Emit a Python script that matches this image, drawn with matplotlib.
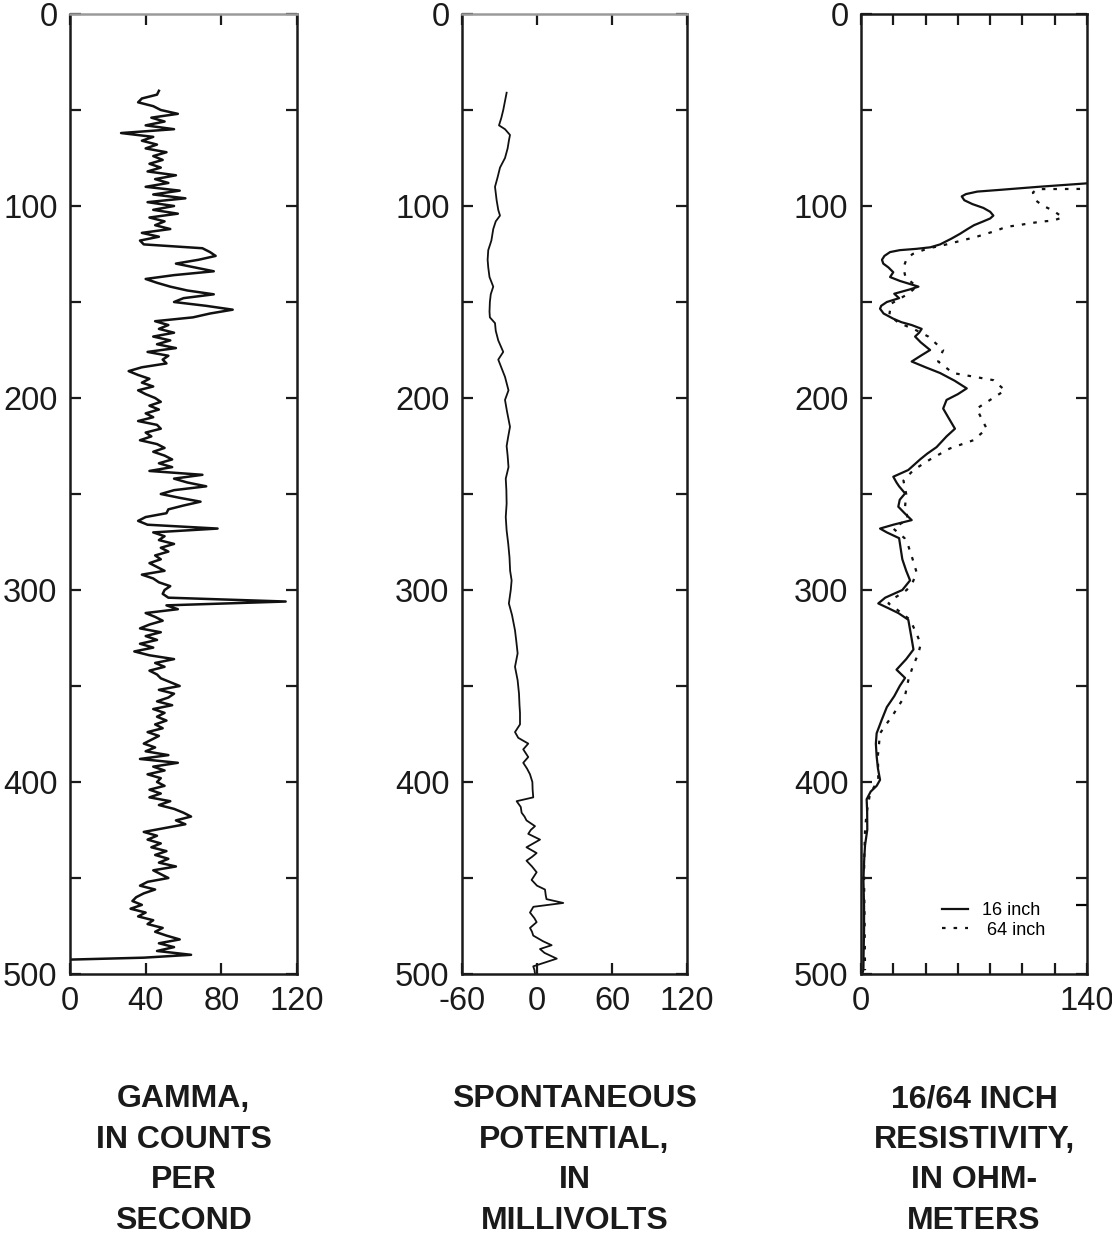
import numpy as np
import matplotlib
matplotlib.use('Agg')
import matplotlib.pyplot as plt
from matplotlib.ticker import FixedLocator

plt.rcParams['font.family'] = ['Liberation Sans', 'DejaVu Sans']

# gamma log, counts per second, read every 2 ft (plus the tail where the tool drops to 0)
gamma_depth = list(range(40, 492, 2)) + [491.5, 492.5]
gamma_cps = [
    47, 46, 38, 36, 44, 48, 57, 43, 50, 40,
    55, 27, 44, 38, 46, 40, 51, 44, 49, 42,
    48, 41, 56, 45, 52, 40, 58, 44, 61, 41,
    55, 44, 57, 42, 50, 45, 53, 38, 47, 37,
    39, 70, 74, 77, 68, 56, 66, 76, 55, 40,
    46, 53, 62, 76, 60, 55, 72, 86, 74, 65,
    45, 52, 47, 55, 44, 53, 46, 56, 41, 52,
    49, 51, 38, 31, 36, 42, 38, 44, 36, 40,
    45, 48, 42, 47, 40, 44, 36, 46, 48, 40,
    43, 37, 46, 50, 44, 50, 54, 47, 54, 42,
    70, 55, 62, 72, 55, 48, 58, 69, 60, 52,
    51, 40, 36, 41, 78, 44, 50, 47, 55, 48,
    52, 45, 48, 42, 46, 50, 38, 44, 47, 53,
    50, 49, 52, 114, 51, 57, 40, 45, 49, 42,
    37, 48, 40, 46, 37, 44, 34, 42, 55, 45,
    50, 42, 46, 48, 53, 58, 47, 55, 52, 46,
    54, 44, 50, 46, 51, 45, 49, 41, 47, 43,
    39, 45, 40, 52, 37, 57, 44, 50, 41, 48,
    46, 50, 42, 48, 42, 53, 47, 55, 60, 64,
    56, 61, 50, 39, 46, 41, 48, 43, 51, 45,
    52, 47, 56, 44, 48, 52, 41, 37, 45, 39,
    35, 33, 38, 32, 40, 36, 44, 41, 49, 45,
    51, 58, 47, 55, 46, 64,
    39, 0,
]

# spontaneous potential, millivolts
sp_depth = [
    41, 45, 50, 54, 58, 60, 63, 66, 70, 75,
    80, 85, 90, 97, 102, 105, 108, 112, 118, 123,
    128, 132, 137, 142, 146, 150, 155, 158, 161, 165,
    170, 176, 180, 185, 189, 193, 196, 201, 207, 215,
    220, 225, 230, 236, 242, 248, 255, 262, 269, 276,
    283, 290, 295, 300, 307, 313, 321, 327, 333, 340,
    347, 354, 360, 364, 370, 374, 377, 380, 383, 387,
    390, 393, 396, 400, 404, 408, 410, 413, 416, 418,
    420, 423, 425, 427, 430, 432, 434, 437, 439, 441,
    444, 447, 451, 454, 456, 459, 461, 463, 465, 468,
    471, 473, 476, 478, 480, 483, 485, 487, 489, 492,
    494, 496, 498, 500,
]
sp_mv = [
    -24.3, -25.5, -27, -28.5, -30.4, -25.6, -21.6, -22.5, -23.5, -25.6,
    -29.6, -31.5, -33.6, -32.3, -31, -29.6, -33, -35, -36.5, -39,
    -39.5, -39, -38, -35, -37, -37.7, -38, -37.7, -33.6, -33,
    -31, -27, -31, -28, -25.6, -24, -22.8, -25.6, -24, -21.6,
    -23, -24.3, -23.5, -22.8, -25, -24.5, -24.3, -25, -24.3, -23,
    -22, -21.5, -20.3, -21, -22.5, -20, -17.6, -16.5, -15.5, -17.6,
    -15.5, -14.4, -14, -13.6, -13.6, -17.6, -15, -7, -11, -7,
    -11, -8, -5.6, -3.7, -3.5, -3, -16.3, -13, -12.3, -10,
    -8.4, -1.6, -5, -7, 2.4, -3, -8.4, -0.3, -4, -8.4,
    -4, -0.3, -4.3, 0, 6.4, 7, 7.6, 21, -2.9, -5.6,
    -2, -0.3, -5.6, -4, -3, 5, 11.7, 2.4, 6, 15.8,
    6.4, -3, -2, -1.6,
]

# 16-inch normal resistivity, ohm-meters
r16_depth = [
    87.3, 88.2, 90, 91.6, 92.5, 93.8, 95, 97, 99, 101,
    103, 105, 106.5, 108, 110, 112, 114.5, 117, 120, 121.5,
    122.3, 123, 124, 126, 128, 130, 132, 134.5, 137, 139,
    142, 143.5, 145.7, 148, 150, 152, 153.5, 156, 158.7, 160.5,
    162, 164, 166, 168, 171, 175, 178, 181, 184, 187,
    191, 195, 198, 201, 205.5, 210, 216, 220, 225.6, 229,
    232, 237.5, 241, 244, 246, 249.7, 253, 256.6, 260, 263.6,
    266, 268, 270, 273, 278, 284, 290, 295, 300, 304,
    307, 309.5, 312, 315.5, 320.7, 326, 331, 336, 341.5, 345.8,
    350, 355.3, 361, 367.7, 374.6, 380, 386.7, 393, 398.9, 402,
    405, 409, 415, 424.8, 433, 440, 450.8, 465, 477, 490,
    497.7, 501,
]
r16 = [
    155, 140, 110, 86, 72, 65, 62.4, 64, 69, 75.8,
    80, 82, 80, 75.8, 70, 66, 61.3, 56, 49, 43,
    34.5, 24, 18, 14.5, 13, 13.8, 17, 20, 18, 24,
    35.6, 30, 20.6, 23.6, 16, 12.5, 11.8, 14, 20, 25,
    31.4, 37.6, 36, 33.5, 37, 42.8, 37, 31.4, 40, 49,
    58, 65.5, 60, 53, 50.9, 54, 58.2, 53, 46.8, 41,
    36.6, 29.3, 20, 22, 23.6, 27.3, 24, 23.1, 27, 31.4,
    20, 11.8, 16, 23.6, 24.5, 25.6, 28, 30.4, 25.6, 15,
    10.7, 17, 23.1, 29.3, 30.4, 31.5, 32.5, 28, 22, 27.3,
    24, 20.6, 16, 12.8, 9.7, 9.2, 9.7, 10.5, 11.8, 9.7,
    6, 3.5, 3.8, 3.9, 2.5, 2, 1.5, 1.9, 1.9, 1.6,
    1.5, 0.5,
]

# 64-inch normal resistivity, ohm-meters
r64_depth = [
    90.8, 91.1, 91.2, 93, 96.8, 99.8, 102.4, 105.9, 107.6, 108.1,
    109, 110, 110.9, 112.8, 116, 120, 122.3, 125, 127.5, 132,
    137, 142, 145.7, 150.9, 157, 161, 164, 168, 175, 181,
    187, 190.7, 196, 201, 205.5, 211, 216, 222, 226.3, 232,
    237.5, 243, 250, 256.6, 263, 268, 273, 277, 284, 291,
    296, 300, 304, 307, 310, 315.5, 322, 328, 333, 340,
    347, 355, 364, 374.6, 386, 399, 406, 416, 425, 440,
    451, 470, 498,
]
r64 = [
    150, 139, 109, 106.5, 107.8, 112.6, 119, 125, 119, 112,
    104.7, 97.4, 89.8, 84, 71.7, 53, 40.7, 32, 28.3, 26.3,
    27.5, 34.5, 29.3, 18.6, 17.5, 23.6, 32.5, 41.7, 50.9, 47.8,
    57, 82, 89.2, 80, 71.7, 74.8, 77.9, 69.6, 55, 42.8,
    32.5, 26.3, 28, 27.3, 29, 20, 27, 29.3, 32, 34.5,
    32, 28.3, 21, 17, 22, 30.4, 34, 37, 35.6, 32,
    29.3, 27.3, 20.6, 11.8, 10.5, 10.7, 5.6, 3.5, 2.5, 2,
    1.9, 2.2, 2.5,
]

depth_ticks = list(range(0, 501, 50))
depth_labels = ['0', '', '100', '', '200', '', '300', '', '400', '', '500']

titles = ['GAMMA,\nIN COUNTS\nPER\nSECOND',
          'SPONTANEOUS\nPOTENTIAL,\nIN\nMILLIVOLTS',
          '16/64 INCH\nRESISTIVITY,\nIN OHM-\nMETERS']

fig = plt.figure(figsize=(11.12, 12.38), dpi=100)
W, H = 1112.0, 1238.0
bottom = 1 - 974 / H
height = 960 / H
ax1 = fig.add_axes([70 / W, bottom, 227 / W, height])
ax2 = fig.add_axes([462 / W, bottom, 225 / W, height])
ax3 = fig.add_axes([861 / W, bottom, 226 / W, height])


def setup(ax, xlim, xticks, xlabels):
    ax.set_xlim(*xlim)
    ax.set_ylim(500, 0)
    ax.set_yticks(depth_ticks)
    ax.set_yticklabels(depth_labels)
    ax.set_xticks(xticks)
    ax.set_xticklabels(xlabels)
    ax.tick_params(direction='in', length=8, width=1.6, top=True, right=True,
                   labelsize=23.5, pad=9, colors='#1a1a1a', labelcolor='#1a1a1a')
    for s in ax.spines.values():
        s.set_linewidth(1.8)
        s.set_color('#1a1a1a')


setup(ax1, (0, 120), [0, 40, 80, 120], ['0', '40', '80', '120'])
setup(ax2, (-60, 120), [-60, 0, 60, 120], ['-60', '0', '60', '120'])
setup(ax3, (0, 140), list(range(0, 141, 20)), ['0', '', '', '', '', '', '', '140'])
ax1.spines['top'].set_color('#9a9a9a')
ax2.spines['top'].set_color('#9a9a9a')
ax3.yaxis.set_minor_locator(FixedLocator([464]))
ax3.tick_params(which='minor', direction='in', length=8, width=1.6, left=False, right=True)

ax1.plot(gamma_cps, gamma_depth, color='#111111', lw=1.8)
ax2.plot(sp_mv, sp_depth, color='#111111', lw=1.3)
ax3.plot(r16, r16_depth, color='#111111', lw=1.6, label='16 inch')
ax3.plot(r64, r64_depth, color='#111111', lw=1.6, linestyle=(0, (1.6, 3.6)), label=' 64 inch')
ax3.legend(loc='upper left', bbox_to_anchor=(0.36, 0.075), frameon=False, fontsize=13,
           handlelength=1.4, handletextpad=0.8, labelspacing=0.15, borderpad=0, borderaxespad=0)

for ax, t in zip([ax1, ax2, ax3], titles):
    pos = ax.get_position()
    fig.text(pos.x0 + pos.width / 2, 0.1243, t, ha='center', va='top', fontsize=23,
             fontweight='bold', linespacing=1.46, color='#1a1a1a')

fig.savefig('out.png', dpi=100)
